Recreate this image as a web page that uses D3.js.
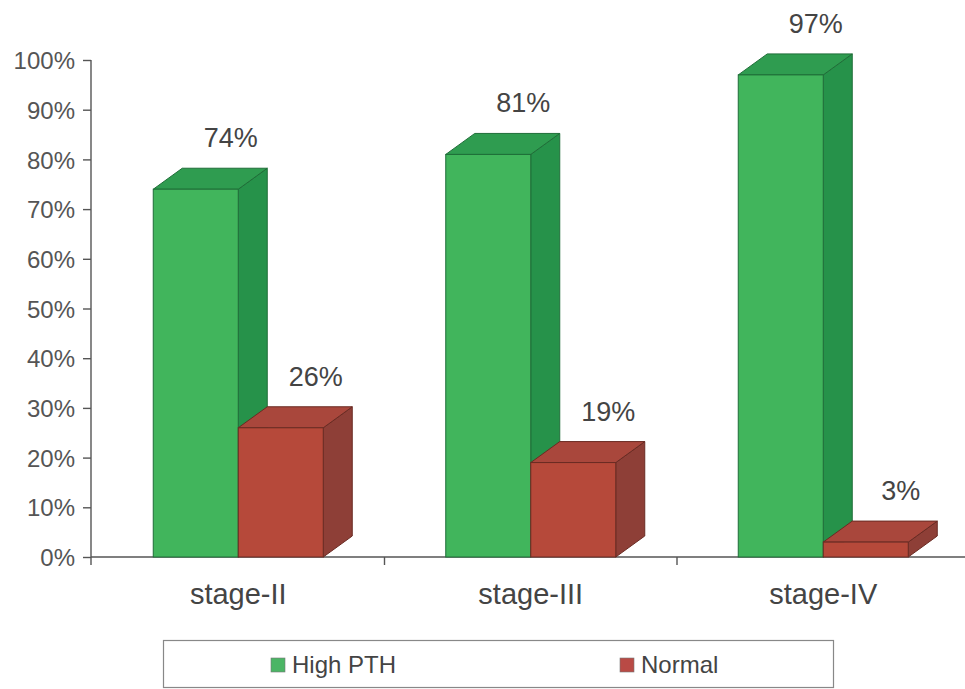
<!DOCTYPE html>
<html>
<head>
<meta charset="utf-8">
<script src="https://cdn.jsdelivr.net/npm/d3@7"></script>
<style>
  html, body { margin: 0; padding: 0; background: #fff; }
  svg { display: block; font-family: "Liberation Sans", Arial, sans-serif; }
</style>
</head>
<body>
<svg id="chart" width="965" height="689"></svg>
<script>
// Share of patients by CKD stage
const categories = ["stage-II", "stage-III", "stage-IV"];
const seriesNames = ["High PTH", "Normal"];
const highPTH = [74, 81, 97];
const normal = [26, 19, 3];
const yTicks = [0, 10, 20, 30, 40, 50, 60, 70, 80, 90, 100];

const seriesValues = [highPTH, normal];
const palette = {
  "High PTH": { front: "#41b55c", top: "#2f9c50", side: "#26924a", edge: "#1f6e38", key: "#4bb565" },
  "Normal":   { front: "#b6493a", top: "#a9473c", side: "#8e3f37", edge: "#6a2b23", key: "#b94a45" }
};

const svg = d3.select("#chart");
const depthX = 29, depthY = 21;

const x = d3.scaleBand().domain(categories).range([92, 969.5]).padding(0);
const xInner = d3.scaleBand().domain(seriesNames).range([-85, 85]).padding(0);
const y = d3.scaleLinear().domain([0, 100]).range([557, 60]);

// y axis
const yAxis = d3.axisLeft(y).tickValues(yTicks).tickFormat(d => d + "%").tickSize(8).tickPadding(8);
const gy = svg.append("g").attr("transform", "translate(91,0)").call(yAxis);
gy.select(".domain").attr("stroke", "#555").attr("stroke-width", 1.4).attr("d", `M0,${y(100)}V${y(0) + 8}`);
gy.selectAll(".tick line").attr("stroke", "#555").attr("stroke-width", 1.4);
gy.selectAll(".tick text").attr("fill", "#555").attr("font-size", 24)
  .attr("font-family", "Liberation Sans, Arial, sans-serif").attr("dy", "0.36em");

// x baseline and category separators
svg.append("line").attr("x1", 91).attr("x2", 965).attr("y1", y(0)).attr("y2", y(0))
  .attr("stroke", "#555").attr("stroke-width", 1.4);
const bounds = categories.slice(1).map(c => x(c));
svg.selectAll(".sep").data(bounds).enter().append("line")
  .attr("x1", d => d).attr("x2", d => d).attr("y1", y(0)).attr("y2", y(0) + 8)
  .attr("stroke", "#555").attr("stroke-width", 1.4);

// category labels
svg.selectAll(".cat").data(categories).enter().append("text")
  .attr("x", d => x(d) + x.bandwidth() / 2).attr("y", 604)
  .attr("text-anchor", "middle").attr("font-size", 29).attr("fill", "#444")
  .text(d => d);

// 3D bars
const bars = [];
categories.forEach((c, i) => {
  seriesNames.forEach((s, j) => {
    bars.push({ cat: c, series: s, value: seriesValues[j][i] });
  });
});

const g = svg.append("g");
bars.forEach(b => {
  const cx = x(b.cat) + x.bandwidth() / 2;
  const x0 = cx + xInner(b.series);
  const x1 = x0 + xInner.bandwidth();
  const y0 = y(0), y1 = y(b.value);
  const col = palette[b.series];
  const bg = g.append("g");
  // side face
  bg.append("path")
    .attr("d", `M${x1},${y0}L${x1 + depthX},${y0 - depthY}L${x1 + depthX},${y1 - depthY}L${x1},${y1}Z`)
    .attr("fill", col.side).attr("stroke", col.edge).attr("stroke-width", 1).attr("stroke-linejoin", "round");
  // top face
  bg.append("path")
    .attr("d", `M${x0},${y1}L${x0 + depthX},${y1 - depthY}L${x1 + depthX},${y1 - depthY}L${x1},${y1}Z`)
    .attr("fill", col.top).attr("stroke", col.edge).attr("stroke-width", 1).attr("stroke-linejoin", "round");
  // front face
  bg.append("rect")
    .attr("x", x0).attr("y", y1).attr("width", x1 - x0).attr("height", y0 - y1)
    .attr("fill", col.front).attr("stroke", col.edge).attr("stroke-width", 1);
  // value label
  g.append("text")
    .attr("x", (x0 + x1) / 2 + 35).attr("y", y1 - depthY - 21)
    .attr("text-anchor", "middle").attr("font-size", 27).attr("fill", "#444")
    .text(b.value + "%");
});

// legend
const legend = svg.append("g");
legend.append("rect").attr("x", 163.5).attr("y", 640.5).attr("width", 670).attr("height", 47)
  .attr("fill", "#fff").attr("stroke", "#888").attr("stroke-width", 1.2);
const legendX = [271, 620];
seriesNames.forEach((s, i) => {
  legend.append("rect").attr("x", legendX[i]).attr("y", 658).attr("width", 14).attr("height", 14)
    .attr("fill", palette[s].key).attr("stroke", "#777").attr("stroke-width", 0.6);
  legend.append("text").attr("x", legendX[i] + 21).attr("y", 673)
    .attr("font-size", 24).attr("fill", "#444").text(s);
});
</script>
</body>
</html>
